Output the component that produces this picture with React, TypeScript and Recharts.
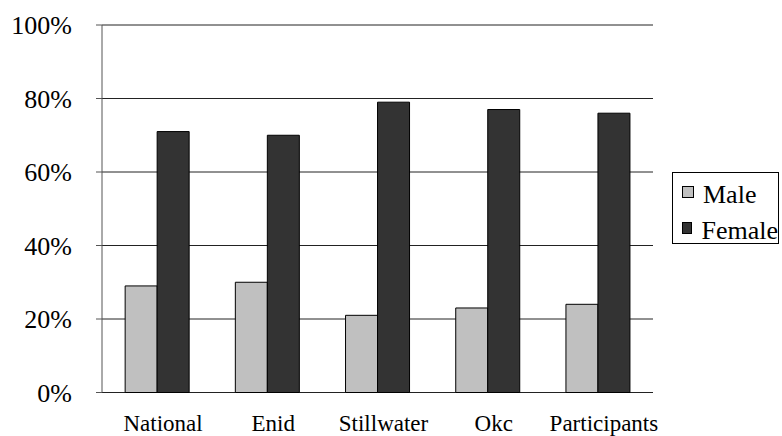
import React from 'react';
import {
  BarChart,
  Bar,
  XAxis,
  YAxis,
  CartesianGrid,
} from 'recharts';

const categories = ['National', 'Enid', 'Stillwater', 'Okc', 'Participants'];
const male = [29, 30, 21, 23, 24];
const female = [71, 70, 79, 77, 76];
const percentTicks = [0, 20, 40, 60, 80, 100];
const edgeTicks = [0, 1, 2, 3, 4, 5];

const series = [
  { key: 'male', name: 'Male', values: male, fill: '#c0c0c0' },
  { key: 'female', name: 'Female', values: female, fill: '#333333' },
];

const data = categories.map((name, i) => {
  const row: Record<string, string | number> = { name };
  series.forEach((s) => {
    row[s.key] = s.values[i];
  });
  return row;
});

const serif = 'Liberation Serif, DejaVu Serif, serif';
const axisColor = '#555555';

export default function App() {
  return (
    <div
      style={{
        position: 'absolute',
        left: 0,
        top: 0,
        width: 782,
        height: 436,
        background: '#fff',
        fontFamily: serif,
      }}
    >
      <BarChart
        width={782}
        height={436}
        data={data}
        margin={{ top: 25, right: 129, bottom: 0, left: 0 }}
        barCategoryGap="21%"
        barGap={0}
        style={{ fontFamily: serif }}
      >
        <CartesianGrid vertical={false} stroke="#222" horizontalValues={percentTicks} />
        {/* tick marks sit on the boundaries between categories */}
        <XAxis
          xAxisId="edges"
          type="number"
          domain={[0, 5]}
          ticks={edgeTicks}
          tick={false}
          tickLine={{ stroke: axisColor }}
          axisLine={{ stroke: axisColor }}
          tickSize={6}
          height={0}
        />
        <XAxis
          xAxisId="cat"
          dataKey="name"
          tickLine={false}
          axisLine={false}
          tickMargin={16}
          height={43.5}
          interval={0}
          tick={{ fill: '#000', fontSize: 23, fontFamily: serif, dx: 6 }}
        />
        <YAxis
          domain={[0, 100]}
          ticks={percentTicks}
          tickFormatter={(v) => `${v}%`}
          width={102}
          tickSize={6}
          tickMargin={24}
          tickLine={{ stroke: axisColor }}
          axisLine={{ stroke: axisColor }}
          tick={{ fill: '#000', fontSize: 26, fontFamily: serif }}
        />
        <YAxis
          yAxisId="frame"
          orientation="right"
          domain={[0, 100]}
          width={0}
          tick={false}
          tickLine={false}
          axisLine={{ stroke: '#888' }}
        />
        {series.map((s) => (
          <Bar
            key={s.key}
            xAxisId="cat"
            dataKey={s.key}
            name={s.name}
            fill={s.fill}
            stroke="#000"
            strokeWidth={1}
            isAnimationActive={false}
          />
        ))}
      </BarChart>
      <div
        style={{
          position: 'absolute',
          left: 672,
          top: 172,
          width: 107,
          height: 72,
          border: '1px solid #000',
          boxSizing: 'border-box',
          paddingTop: 1,
        }}
      >
        {series.map((s) => (
          <div
            key={s.key}
            style={{
              display: 'flex',
              alignItems: 'center',
              height: 36,
              fontSize: 26,
              whiteSpace: 'nowrap',
            }}
          >
            <span
              style={{
                display: 'inline-block',
                width: 10,
                height: 10,
                marginLeft: 9,
                marginRight: 9,
                background: s.fill,
                border: '1px solid #000',
              }}
            />
            <span style={{ position: 'relative', top: 3 }}>{s.name}</span>
          </div>
        ))}
      </div>
    </div>
  );
}
